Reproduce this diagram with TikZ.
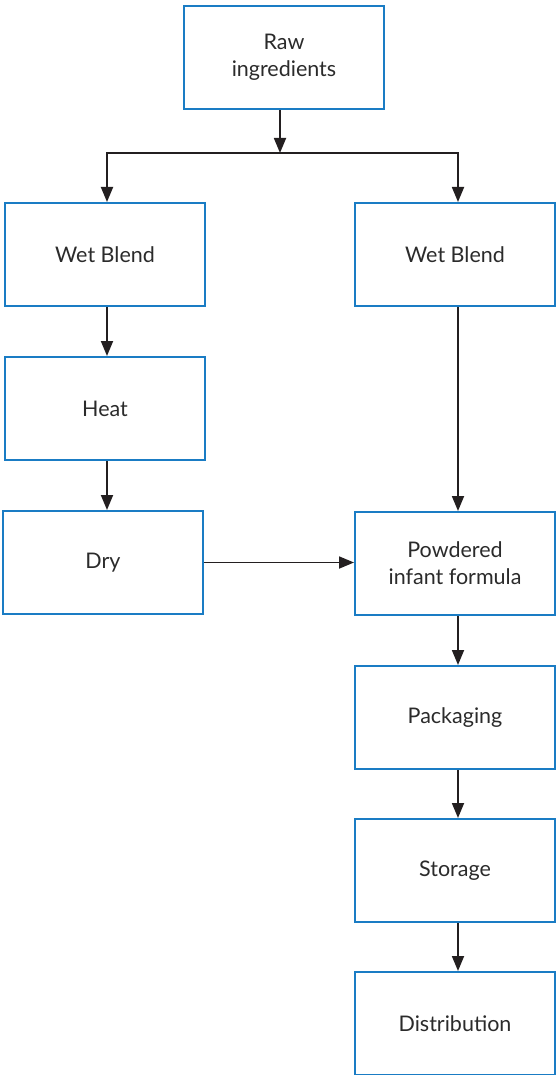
\documentclass[tikz,border=0pt]{standalone}
\usepackage{fontspec}
\setmainfont{Lato}
\usetikzlibrary{arrows.meta}
\definecolor{boxblue}{HTML}{1A7CC4}
\definecolor{ink}{HTML}{231F20}
\definecolor{txt}{HTML}{2B2B2B}
\tikzset{
  stepbox/.style={draw=boxblue, line width=2pt, fill=white, minimum width=200pt, minimum height=103pt,
    anchor=north west, align=center, text=txt, font=\fontsize{21.5}{27}\selectfont, inner sep=0pt},
  arr/.style={draw=ink, line width=1.8pt, -{Triangle[length=15pt,width=12pt]}},
}
\begin{document}
\begin{tikzpicture}[x=1pt,y=-1pt]
\useasboundingbox (0,0) rectangle (555,1075);
\node[stepbox] (raw) at (183,5) {Raw\\ingredients};
\node[stepbox] (wl) at (4,202) {Wet Blend};
\node[stepbox] (wr) at (354,202) {Wet Blend};
\node[stepbox] (heat) at (4,356) {Heat};
\node[stepbox] (dry) at (2,510) {Dry};
\node[stepbox] (pif) at (354,511) {Powdered\\infant formula};
\node[stepbox] (pack) at (354,665) {Packaging};
\node[stepbox] (stor) at (354,818) {Storage};
\node[stepbox] (dist) at (354,971) {Distribution};
\coordinate (j) at (280,153);
\coordinate (jl) at (107,153);
\coordinate (jr) at (458,153);
\draw[arr] (raw.south -| j) -- (j);
\draw[arr] (j) -| (jl |- wl.north);
\draw[arr] (j) -| (jr |- wr.north);
\draw[arr] (jl |- wl.south) -- (jl |- heat.north);
\draw[arr] (jl |- heat.south) -- (jl |- dry.north);
\draw[arr] (jr |- wr.south) -- (jr |- pif.north);
\draw[arr] (dry.east) -- (pif.west |- dry.east);
\draw[arr] (jr |- pif.south) -- (jr |- pack.north);
\draw[arr] (jr |- pack.south) -- (jr |- stor.north);
\draw[arr] (jr |- stor.south) -- (jr |- dist.north);
\end{tikzpicture}
\end{document}
